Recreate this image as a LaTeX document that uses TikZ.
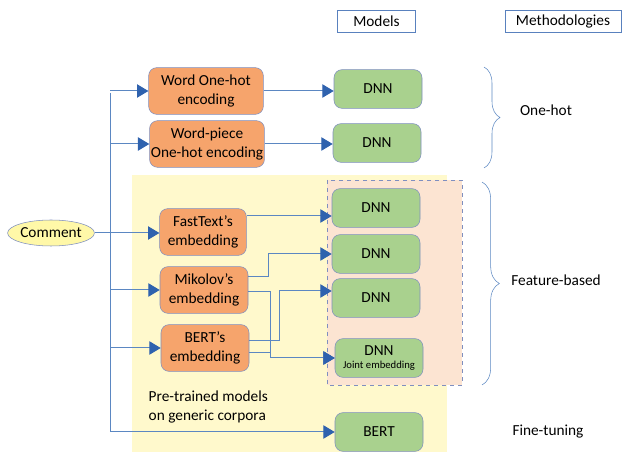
\documentclass[tikz,border=0pt]{standalone}
\usepackage{fontspec}
\setmainfont{Carlito}
\usetikzlibrary{arrows.meta, shapes.geometric, calc, decorations.pathreplacing}
\definecolor{srcfill}{HTML}{F6A46C}
\definecolor{dnnfill}{HTML}{A9D18E}
\definecolor{boxline}{HTML}{7F8FC0}
\definecolor{linkblue}{HTML}{5B87C2}
\definecolor{tipblue}{HTML}{2F62AE}
\definecolor{pretrain}{HTML}{FFF9CC}
\definecolor{featfill}{HTML}{FCE4D2}
\definecolor{commfill}{HTML}{FFF8A8}

\begin{document}
\begin{tikzpicture}[x=0.75pt,y=-0.75pt,
    every node/.style={font=\fontsize{11.5}{14.5}\selectfont},
    src/.style={draw=boxline,fill=srcfill,rounded corners=6pt,align=center,
        minimum height=35pt,inner sep=1pt},
    dnn/.style={draw=boxline,fill=dnnfill,rounded corners=6pt,align=center,
        minimum width=66pt,minimum height=29pt,inner sep=1pt},
    head/.style={draw=tipblue!80,line width=0.6pt,minimum height=17pt,inner sep=1pt},
    link/.style={draw=linkblue,line width=0.75pt},
    >={Triangle[length=8.5pt,width=10pt,color=tipblue]}  % big filled heads
]
    \useasboundingbox (0,0) rectangle (622,452);

    % regions
    \fill[pretrain] (132,175) rectangle (447,452);
    \fill[featfill] (327,180) rectangle (462,385);
    \draw[boxline,dashed,line width=0.6pt] (327,180) rectangle (462,385);

    % headings
    \node[head,minimum width=59pt] (models) at (376.5,21.5) {Models};
    \node[head,minimum width=87pt] (method) at (563,21.5) {Methodologies};

    % inputs
    \node[ellipse,draw=boxline,fill=commfill,minimum width=61pt,minimum height=19.5pt,inner sep=0pt] (comment) at (51,233) {Comment};
    \node[src,minimum width=86pt] (woh) at (206,91) {Word One-hot\\encoding};
    \node[src,minimum width=86pt] (wp) at (207,144) {Word-piece\\One-hot encoding};
    \node[src,minimum width=65pt] (fast) at (203,232) {FastText's\\embedding};
    \node[src,minimum width=66pt] (mik) at (204,290) {Mikolov's\\embedding};
    \node[src,minimum width=66pt] (berte) at (205,348) {BERT's\\embedding};
    \node[anchor=west,align=left] (pre) at (144,407) {Pre-trained models\\on generic corpora};

    % models
    \node[dnn] (dnn1) at (378,89) {DNN};
    \node[dnn] (dnn2) at (377,143) {DNN};
    \node[dnn] (dnn3) at (376,208) {DNN};
    \node[dnn] (dnn4) at (376,254) {DNN};
    \node[dnn] (dnn5) at (376,298) {DNN};
    \node[dnn] (joint) at (379,358) {DNN\\[-5pt]{\fontsize{8}{9}\selectfont Joint embedding}};
    \node[dnn] (bert) at (379,432) {BERT};

    % methodologies
    \draw[linkblue,decorate,decoration={brace,amplitude=12pt}] (484,67) -- (484,168);
    \draw[linkblue,decorate,decoration={brace,amplitude=13pt}] (482,182) -- (482,385);
    \node (onehot) at (546,110) {One-hot};
    \node (featbased) at (556,280) {Feature-based};
    \node (finetune) at (548,432) {Fine-tuning};

    % trunk from the comment
    \coordinate (trunk) at (110,93);
    \draw[link,->] (comment.east) -- (comment.east -| fast.west);
    \draw[link,->] (trunk) |- (bert.west);
    \foreach \n in {woh,wp,mik,berte}
        \draw[link,->] (trunk |- \n.west) -- (\n.west);

    % to the models
    \draw[link,->] (woh.east) -- (woh.east -| dnn1.west);
    \draw[link,->] (wp.east) -- (wp.east -| dnn2.west);
    \draw[link,->] ($(fast.east)+(0,-16)$) coordinate (f1) -- (f1 -| dnn3.west);
    \draw[link,->] ($(mik.east)+(0,-13)$) -| ($(dnn4.west)+(-63,0)$) -- (dnn4.west);
    \draw[link,->] ($(mik.east)+(0,2)$) -| ($(joint.west)+(-64,0)$) -- (joint.west);
    \draw[link,->] ($(berte.east)+(0,-7)$) -| ($(dnn5.west)+(-52,-7)$) -- ($(dnn5.west)+(0,-7)$);
    \draw[link,->] ($(berte.east)+(0,5)$) -| ($(joint.west)+(-64,0)$) -- (joint.west);
\end{tikzpicture}
\end{document}
